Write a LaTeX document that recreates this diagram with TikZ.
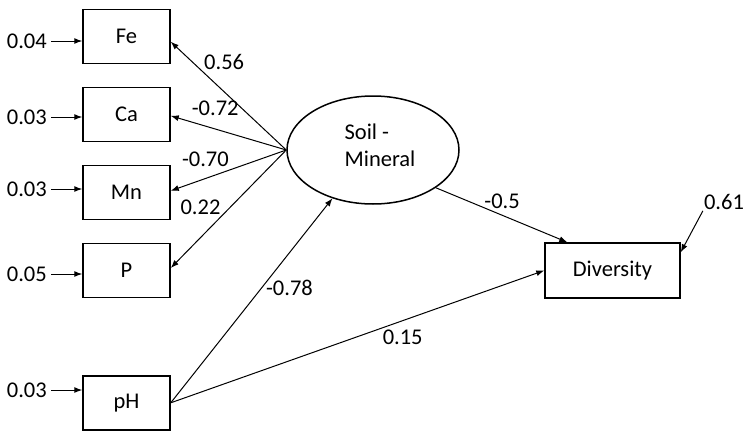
\documentclass[tikz,border=0pt]{standalone}
\usepackage{fontspec}
\setmainfont{Carlito}
\usetikzlibrary{positioning,shapes.geometric,arrows.meta}

\begin{document}
\begin{tikzpicture}[x=1pt,y=-1pt,node distance=78pt,on grid,
		font=\fontsize{22.5}{27}\selectfont,
		obs/.style={draw,line width=1.5pt,minimum width=87pt,minimum height=54pt,inner sep=0pt},
		lat/.style={draw,ellipse,line width=1.5pt,minimum width=172pt,minimum height=108pt,inner sep=0pt},
		err/.style={inner sep=4pt,anchor=east},
		>={Latex[length=8pt,width=6pt]}]
		\useasboundingbox (0,0) rectangle (746,431);
		\node[obs] (Fe) at (126.5,36.3) {Fe};
		\node[obs] (Ca) [below=of Fe] {Ca};
		\node[obs] (Mn) [below=of Ca] {Mn};
		\node[obs] (P) [below=of Mn] {P};
		\node[obs] (pH) [below=132.5pt of P] {pH};
		\node[lat,label={[xshift=7pt,yshift=5pt,align=left]center:Soil -\\Mineral}] (SM) at (373,150) {};
		\node[obs,minimum width=135pt,minimum height=55pt] (Div) at (612.5,270.5) {Diversity};
		% error terms
		\node[err] (eFe) at (51,41) {0.04};
		\node[err] (eCa) at (51,117) {0.03};
		\node[err] (eMn) at (51,189) {0.03};
		\node[err] (eP) at (51,274) {0.05};
		\node[err] (epH) at (51,390) {0.03};
		\node[inner sep=1pt] (eDiv) at (724,202) {0.61};
		\path[->,line width=1pt]
		(eFe) edge (eFe -| Fe.west)
		(eCa) edge (eCa -| Ca.west)
		(eMn) edge (eMn -| Mn.west)
		(eP) edge (eP -| P.west)
		(epH) edge (epH -| pH.west)
		(eDiv.south west) edge (Div.15)
		(SM.west) edge node[pos=.815,xshift=32pt] (lFe) {0.56} (Fe.-7)
		edge node[pos=.615,yshift=21pt] (lCa) {-0.72} (Ca.-2)
		edge node[pos=.70,yshift=19pt] (lMn) {-0.70} (Mn.2)
		edge node[pos=.483,xshift=-30pt] (lP) {0.22} (P.3)
		(pH.east) edge node[pos=.561,xshift=28pt] (lpH) {-0.78} (SM.230)
		edge node[pos=.621,yshift=-17pt] (lpD) {0.15} (Div.west)
		(SM.-31) edge node[pos=.504,yshift=14pt] (lSD) {-0.5} (Div.148);
	\end{tikzpicture}
\end{document}
